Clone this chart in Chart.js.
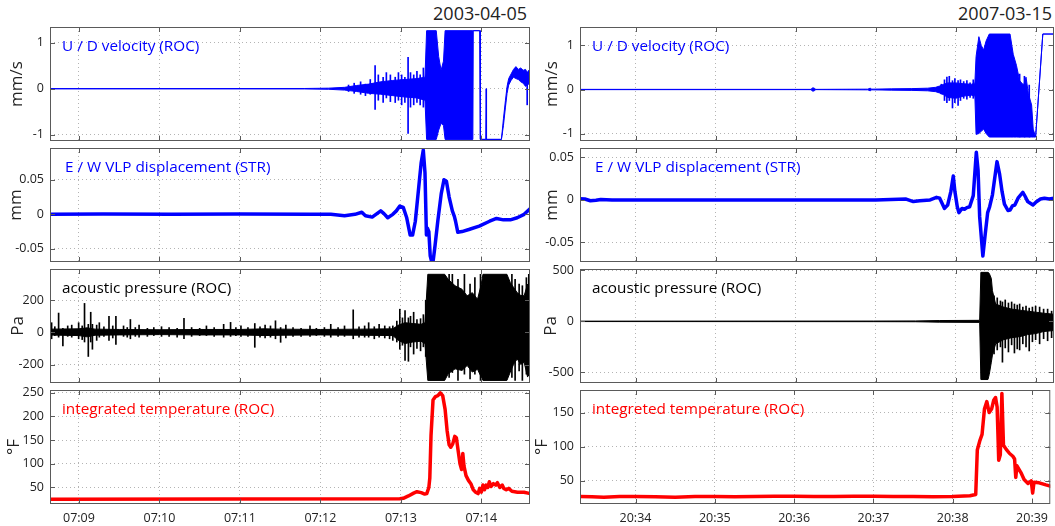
<!DOCTYPE html>
<html>
<head>
<meta charset="utf-8">
<script src="https://cdn.jsdelivr.net/npm/chart.js@4.4.0/dist/chart.umd.min.js"></script>
<style>
  body { margin: 0; background: #fff; width: 1055px; height: 526px; overflow: hidden; position: relative; font-family: "Open Sans", sans-serif; }
  canvas { position: absolute; }
  .date { position: absolute; top: 1px; font-size: 18px; color: #222; }
</style>
</head>
<body>
<div class="date" style="right:528px">2003-04-05</div>
<div class="date" style="right:3px">2007-03-15</div>
<script>
// time axis values are minutes after the hour (07:xx on the left, 20:xx on the right)
const ticksA = [9, 10, 11, 12, 13, 14];
const labelsA = ["07:09", "07:10", "07:11", "07:12", "07:13", "07:14"];
const ticksB = [34, 35, 36, 37, 38, 39];
const labelsB = ["20:34", "20:35", "20:36", "20:37", "20:38", "20:39"];

// U/D velocity (mm/s): envelope of the trace + single spikes
const velA_t = [8.64,11.80,12.10,12.30,12.45,12.60,12.75,12.90,13.05,13.20,
  13.30,13.32,13.44,13.47,13.50,13.53,13.55,13.895,13.90,13.98,
  13.985,13.99,14.055,14.06,14.065,14.25,14.275,14.30,14.32,14.34,
  14.37,14.40,14.43,14.46,14.49,14.52,14.55,14.57,14.59,14.605];
const velA_hi = [0.003,0.005,0.012,0.03,0.07,0.1,0.15,0.18,0.2,0.22,
  0.25,1.26,1.26,0.7,0.4,0.6,1.26,1.26,1.26,1.26,
  1.26,-1.1,-1.1,0,-1.1,-1.1,-0.65,-0.25,0.05,0.22,
  0.32,0.42,0.48,0.42,0.45,0.4,0.42,0.35,0.4,0.3];
const velA_lo = [-0.003,-0.005,-0.012,-0.03,-0.06,-0.1,-0.12,-0.15,-0.18,-0.2,
  -0.25,-1.1,-1.1,-0.9,-0.75,-0.8,-1.1,-1.1,1.26,1.26,
  -1.1,-1.1,-1.1,-1.1,-1.1,-1.1,-0.8,-0.4,-0.1,0.08,
  0.18,0.25,0.22,0.2,0.15,0.12,0.05,0.08,0.1,0.15];
const velA_sp_t = [12.35,12.42,12.50,12.56,12.62,12.68,12.72,12.78,12.82,12.87,
  12.93,12.97,13.01,13.05,13.09,13.12,13.16,13.20,13.24,13.28,14.57];
const velA_sp_lo = [-0.06,-0.1,-0.12,-0.15,-0.12,-0.45,-0.25,-0.3,-0.2,-0.28,
  -0.3,-0.25,-0.35,-0.3,-0.97,-0.4,-0.35,-0.3,-0.35,-0.4,-0.35];
const velA_sp_hi = [0.08,0.12,0.15,0.1,0.2,0.5,0.3,0.25,0.35,0.3,
  0.25,0.35,0.3,0.25,0.68,0.35,0.3,0.38,0.3,0.45,0.35];

const velB_t = [33.30,36.19,36.21,36.23,36.25,36.90,36.93,36.95,37.20,37.45,
  37.65,37.75,37.80,37.85,37.90,38.00,38.10,38.20,38.24,38.255,
  38.29,38.32,38.35,38.38,38.42,38.68,38.72,38.76,38.80,38.85,
  38.88,38.91,38.95,38.97,39.00,39.09,39.23];
const velB_hi = [0.003,0.003,0.04,0.03,0.003,0.008,0.03,0.008,0.015,0.02,
  0.03,0.05,0.08,0.12,0.15,0.15,0.13,0.12,0.15,0.75,
  1.2,1.0,0.9,1.1,1.26,1.26,0.8,0.55,0.2,0.1,
  0.28,-0.1,-0.35,-0.9,-1.08,1.26,1.26];
const velB_lo = [-0.003,-0.003,-0.04,-0.03,-0.003,-0.008,-0.03,-0.008,-0.015,-0.02,
  -0.03,-0.05,-0.08,-0.12,-0.18,-0.2,-0.15,-0.13,-0.15,-1.02,
  -1.0,-0.95,-0.9,-1.0,-1.08,-1.08,-1.08,-1.08,-1.08,-1.08,
  -1.08,-1.08,-1.08,-1.08,-1.08,1.26,1.26];
const velB_sp_t = [37.82,37.86,37.89,37.92,37.96,37.99,38.03,38.06,38.10,38.14,
  38.18,38.22,38.80,38.86,38.92];
const velB_sp_lo = [-0.1,-0.25,-0.3,-0.25,-0.42,-0.3,-0.36,-0.25,-0.2,-0.22,
  -0.18,-0.2,-1.08,-1.08,-1.08];
const velB_sp_hi = [0.12,0.22,0.28,0.3,0.2,0.25,0.2,0.22,0.18,0.2,
  0.15,0.22,0.35,0.3,0.1];

// E/W VLP displacement (mm)
const dispA_t = [8.64,9.30,10.15,11.01,11.87,12.13,12.30,12.43,12.515,12.56,
  12.644,12.75,12.79,12.837,12.90,12.944,12.987,13.03,13.073,13.116,
  13.146,13.18,13.223,13.253,13.279,13.30,13.318,13.33,13.348,13.365,
  13.382,13.403,13.425,13.459,13.502,13.536,13.566,13.60,13.64,13.665,
  13.68,13.708,13.76,13.845,13.974,14.103,14.189,14.275,14.36,14.446,
  14.532,14.605];
const dispA_v = [0,0.0005,0,0.0005,0,0,-0.002,0,0.003,-0.002,
  -0.004,0.005,0.001,-0.005,0,0.005,0.012,0.01,-0.005,-0.03,
  -0.03,-0.01,0.04,0.075,0.093,0.06,-0.03,-0.02,-0.025,-0.06,
  -0.068,-0.066,-0.045,-0.01,0.03,0.05,0.048,0.025,0.005,-0.003,
  -0.01,-0.026,-0.025,-0.022,-0.017,-0.01,-0.006,-0.008,-0.008,-0.005,
  0,0.008];

const dispB_t = [33.30,33.36,33.43,33.50,33.56,33.70,34.50,35.50,36.50,37.00,
  37.38,37.47,37.55,37.68,37.76,37.80,37.86,37.90,37.94,37.97,
  37.99,38.02,38.04,38.08,38.11,38.14,38.175,38.22,38.258,38.28,
  38.30,38.34,38.37,38.40,38.425,38.46,38.517,38.55,38.58,38.61,
  38.654,38.68,38.71,38.74,38.78,38.84,38.87,38.90,38.967,39.00,
  39.06,39.11,39.17,39.23];
const dispB_v = [0.0015,0.001,-0.001,-0.0005,0.0005,0,0,0,0,0,
  0.001,-0.002,-0.001,0,0.003,0.002,-0.01,-0.006,0.01,0.028,
  0.01,-0.008,-0.015,-0.01,-0.011,-0.009,-0.008,0.005,0.056,0.035,
  -0.02,-0.066,-0.04,-0.015,-0.008,0.006,0.045,0.03,0.01,-0.005,
  -0.0125,-0.012,-0.007,-0.006,0.002,0.009,0.004,-0.002,-0.006,-0.003,
  0.001,0.002,0.001,0.002];

// acoustic pressure (Pa): envelope of the trace + single spikes
const presA_t = [8.64,9.0,9.1,9.2,9.5,10.0,10.5,11.0,11.3,11.5,
  12.0,12.5,12.9,12.97,13.05,13.15,13.25,13.30,13.335,13.545,
  13.588,13.674,13.76,13.824,13.888,13.953,14.0,14.02,14.318,14.36,
  14.40,14.446,14.49,14.532,14.575,14.605];
const presA_hi = [20,22,28,20,18,16,18,18,22,20,
  18,20,22,45,60,55,50,60,361,361,
  330,290,268,227,247,206,300,361,361,310,
  280,247,230,227,300,144];
const presA_lo = [-17,-20,-28,-18,-16,-14,-16,-16,-20,-18,
  -16,-18,-20,-50,-70,-60,-55,-70,-299,-299,
  -258,-227,-237,-206,-247,-230,-280,-299,-299,-247,
  -200,-165,-200,-186,-278,-220];
const presA_sp_t = [8.66,8.70,8.747,8.80,8.86,8.91,8.996,9.04,9.069,9.116,
  9.146,9.167,9.22,9.253,9.31,9.373,9.42,9.459,9.554,9.60,
  9.639,9.70,9.747,9.85,9.93,10.026,10.12,10.22,10.305,10.40,
  10.50,10.584,10.68,10.798,10.884,10.95,11.013,11.10,11.185,11.25,
  11.313,11.38,11.442,11.506,11.571,11.66,11.76,11.871,11.95,12.05,
  12.129,12.22,12.30,12.408,12.48,12.55,12.60,12.67,12.73,12.80,
  12.86,12.90,12.95,12.987,13.02,13.052,13.094,13.12,13.159,13.20,
  13.245,13.28,13.309,13.60,13.64,13.71,13.79,13.86,13.92,13.99,
  14.38,14.42,14.47,14.51,14.56,14.59];
const presA_sp_hi = [60,35,120,25,40,45,60,40,180,50,
  125,50,45,60,35,100,40,100,40,30,
  80,30,45,25,30,35,30,25,87,30,
  25,40,30,50,62,30,40,30,55,35,
  45,40,72,30,45,30,25,40,25,30,
  50,30,40,140,35,40,60,35,50,40,
  35,40,70,144,90,135,90,100,125,80,
  85,110,200,361,361,330,361,300,340,361,
  361,330,300,290,340,361];
const presA_sp_lo = [-40,-20,-30,-85,-25,-30,-40,-45,-60,-150,
  -60,-105,-50,-30,-25,-50,-35,-75,-25,-30,
  -40,-25,-30,-25,-20,-25,-25,-30,-40,-25,
  -20,-20,-25,-30,-25,-20,-25,-25,-93,-30,
  -35,-30,-40,-62,-35,-25,-25,-25,-20,-25,
  -30,-25,-25,-40,-30,-30,-30,-40,-30,-35,
  -40,-50,-60,-105,-80,-175,-180,-90,-135,-100,
  -115,-90,-150,-280,-250,-299,-260,-290,-260,-299,
  -280,-299,-240,-299,-260,-270];

const presB_t = [33.30,36.97,37.50,37.80,38.28,38.30,38.315,38.404,38.42,38.446,
  38.46,38.50,38.60,38.70,38.80,38.90,39.00,39.10,39.23];
const presB_hi = [2,3,4,8,10,12,480,480,470,420,
  300,170,140,120,110,100,90,80,70];
const presB_lo = [-2,-3,-4,-8,-10,-12,-570,-570,-520,-400,
  -330,-220,-180,-160,-150,-130,-120,-100,-90];
const presB_sp_t = [38.48,38.52,38.56,38.585,38.62,38.66,38.70,38.735,38.77,38.80,
  38.84,38.88,38.92,38.96,39.00,39.05,39.10,39.15,39.20];
const presB_sp_hi = [250,230,200,190,210,180,190,170,160,170,
  140,150,130,140,150,140,120,120,100];
const presB_sp_lo = [-320,-280,-250,-400,-260,-300,-230,-310,-270,-280,
  -220,-250,-290,-200,-180,-220,-170,-190,-160];

// integrated temperature (°F)
const tempA_t = [8.64,12.987,13.03,13.094,13.159,13.20,13.253,13.296,13.322,13.348,
  13.36,13.375,13.40,13.43,13.46,13.49,13.52,13.55,13.575,13.60,
  13.62,13.645,13.67,13.69,13.71,13.735,13.755,13.77,13.785,13.81,
  13.84,13.87,13.90,13.93,13.96,13.98,14.00,14.02,14.04,14.06,
  14.08,14.10,14.12,14.15,14.18,14.20,14.23,14.26,14.28,14.31,
  14.34,14.38,14.45,14.53,14.58,14.605];
const tempA_v = [25,26,27,32,38,41,39,36,37,50,
  70,160,235,242,244,250,244,215,170,140,
  135,142,158,155,130,100,88,122,95,75,
  65,58,45,40,37,48,40,55,45,55,
  50,62,52,58,55,60,50,55,48,45,
  48,42,40,40,38,37];

const tempB_t = [33.30,33.45,33.60,33.80,34.00,34.25,34.50,34.75,35.00,35.25,
  35.50,35.75,36.00,36.25,36.50,36.75,37.00,37.25,37.50,37.75,
  38.00,38.217,38.29,38.31,38.34,38.37,38.40,38.43,38.46,38.49,
  38.517,38.54,38.56,38.58,38.60,38.62,38.64,38.675,38.717,38.758,
  38.78,38.795,38.81,38.86,38.90,38.95,38.99,39.008,39.025,39.09,
  39.175,39.24];
const tempB_v = [27,26.5,26,27,27,26.5,26,27,27,26.5,
  27,27.5,27.5,27,27,27.5,27.5,27,27,26.5,
  27,28,30,95,108,118,155,166,150,155,
  168,172,158,80,88,178,102,96,90,86,
  82,55,72,62,52,46,50,32,48,47,
  44,42];

const BLUE = "#0000ff", RED = "#ff0000", BLACK = "#000000";
const rowTop = [27, 148, 269, 390];
const rowBottom = [141, 262, 383, 504];

const panels = [
  { col: 0, row: 0, caption: "U / D velocity (ROC)", color: BLUE, yTitle: "mm/s", titleX: 7,
    yMin: -1.135, yMax: 1.34, yTicks: [-1, 0, 1], yLabels: ["-1", "0", "1"],
    env: [velA_t, velA_hi, velA_lo], spikes: [velA_sp_t, velA_sp_lo, velA_sp_hi] },
  { col: 1, row: 0, caption: "U / D velocity (ROC)", color: BLUE, yTitle: "mm/s", titleX: 12,
    yMin: -1.17, yMax: 1.42, yTicks: [-1, 0, 1], yLabels: ["-1", "0", "1"],
    env: [velB_t, velB_hi, velB_lo], spikes: [velB_sp_t, velB_sp_lo, velB_sp_hi] },
  { col: 0, row: 1, caption: "E / W VLP displacement (STR)", color: BLUE, yTitle: "mm", titleX: 6,
    yMin: -0.069, yMax: 0.096, yTicks: [-0.05, 0, 0.05], yLabels: ["-0.05", "0", "0.05"],
    line: [dispA_t, dispA_v] },
  { col: 1, row: 1, caption: "E / W VLP displacement (STR)", color: BLUE, yTitle: "mm", titleX: 12,
    yMin: -0.073, yMax: 0.061, yTicks: [-0.05, 0, 0.05], yLabels: ["-0.05", "0", "0.05"],
    line: [dispB_t, dispB_v] },
  { col: 0, row: 2, caption: "acoustic pressure (ROC)", color: BLACK, yTitle: "Pa", titleX: 8,
    yMin: -315, yMax: 394, yTicks: [-200, 0, 200], yLabels: ["-200", "0", "200"],
    env: [presA_t, presA_hi, presA_lo], spikes: [presA_sp_t, presA_sp_lo, presA_sp_hi] },
  { col: 1, row: 2, caption: "acoustic pressure (ROC)", color: BLACK, yTitle: "Pa", titleX: 11,
    yMin: -604, yMax: 513, yTicks: [-500, 0, 500], yLabels: ["-500", "0", "500"],
    env: [presB_t, presB_hi, presB_lo], spikes: [presB_sp_t, presB_sp_lo, presB_sp_hi] },
  { col: 0, row: 3, caption: "integrated temperature (ROC)", color: RED, yTitle: "°F", titleX: 4,
    yMin: 15, yMax: 256, yTicks: [50, 100, 150, 200, 250], yLabels: ["50", "100", "150", "200", "250"],
    line: [tempA_t, tempA_v] },
  { col: 1, row: 3, caption: "integreted temperature (ROC)", color: RED, yTitle: "°F", titleX: 2,
    yMin: 16, yMax: 183, yTicks: [50, 100, 150], yLabels: ["50", "100", "150"],
    line: [tempB_t, tempB_v] }
];

const frame = {
  id: "frame",
  afterDraw(chart, args, opts) {
    const { ctx, chartArea: a } = chart;
    const xs = chart.scales.x, ys = chart.scales.y;
    ctx.save();
    ctx.strokeStyle = "#5a5a5a";
    ctx.lineWidth = 1;
    ctx.strokeRect(a.left + 0.5, a.top + 0.5, a.right - a.left - 1, a.bottom - a.top - 1);
    ctx.beginPath();
    xs.ticks.forEach(t => {
      const px = Math.round(xs.getPixelForValue(t.value)) + 0.5;
      ctx.moveTo(px, a.bottom); ctx.lineTo(px, a.bottom - 5);
      ctx.moveTo(px, a.top); ctx.lineTo(px, a.top + 5);
    });
    ys.ticks.forEach(t => {
      const py = Math.round(ys.getPixelForValue(t.value)) + 0.5;
      ctx.moveTo(a.left, py); ctx.lineTo(a.left + 5, py);
      ctx.moveTo(a.right, py); ctx.lineTo(a.right - 5, py);
    });
    ctx.stroke();
    ctx.font = '15.3px "Open Sans"';
    ctx.fillStyle = opts.color;
    ctx.textBaseline = "middle";
    ctx.fillText(opts.caption, a.left + opts.dx, a.top + 20);
    ctx.restore();
  }
};

const tickFont = { family: "Open Sans", size: 12.5 };

panels.forEach(p => {
  const cv = document.createElement("canvas");
  const isBottom = p.row === 3;
  const left = p.col === 0 ? 0 : 530;
  const width = p.col === 0 ? 536 : 525;
  const height = rowBottom[p.row] - rowTop[p.row] + 16 + (isBottom ? 22 : 16);
  cv.width = width;
  cv.height = height;
  cv.style.left = left + "px";
  cv.style.top = (rowTop[p.row] - 16) + "px";
  document.body.appendChild(cv);

  const xt = p.col === 0 ? ticksA : ticksB;
  const xl = p.col === 0 ? labelsA : labelsB;
  const datasets = [];
  if (p.env) {
    const [t, hi, lo] = p.env;
    datasets.push({ data: t.map((v, i) => ({ x: v, y: hi[i] })), borderColor: p.color, backgroundColor: p.color,
      borderWidth: 1, fill: "+1" });
    datasets.push({ data: t.map((v, i) => ({ x: v, y: lo[i] })), borderColor: p.color, borderWidth: 1, fill: false });
  }
  if (p.spikes) {
    const [t, lo, hi] = p.spikes;
    datasets.push({ type: "bar", data: t.map((v, i) => ({ x: v, y: [lo[i], hi[i]] })),
      backgroundColor: p.color, borderWidth: 0, barThickness: 1, grouped: false });
  }
  if (p.line) {
    const [t, v] = p.line;
    datasets.push({ data: t.map((x, i) => ({ x, y: v[i] })), borderColor: p.color, borderWidth: 3.5,
      borderJoinStyle: "round", borderCapStyle: "round", fill: false });
  }

  new Chart(cv, {
    type: "line",
    data: { datasets },
    options: {
      responsive: false,
      animation: false,
      devicePixelRatio: 1,
      layout: { padding: { left: 0, right: p.col === 0 ? 6 : 1, top: 16, bottom: isBottom ? 0 : 16 } },
      elements: { point: { radius: 0 }, line: { tension: 0 } },
      plugins: {
        legend: { display: false },
        tooltip: { enabled: false },
        frame: { caption: p.caption, color: p.color, dx: p.row === 1 ? 15 : 12 }
      },
      scales: {
        x: {
          type: "linear",
          offset: false,
          min: p.col === 0 ? 8.64 : 33.30,
          max: p.col === 0 ? 14.605 : 39.23,
          afterBuildTicks: s => { s.ticks = xt.map(v => ({ value: v })); },
          afterFit: s => { s.height = isBottom ? 22 : 0; },
          ticks: { display: isBottom, padding: 7, font: tickFont, color: "#222", maxRotation: 0,
            callback: (v, i) => xl[i] },
          grid: { color: "#b4b4b4", drawTicks: false, offset: false },
          border: { display: false, dash: [1, 3] }
        },
        y: {
          type: "linear",
          min: p.yMin,
          max: p.yMax,
          afterBuildTicks: s => { s.ticks = p.yTicks.map(v => ({ value: v })); },
          afterFit: s => { s.width = 50; },
          ticks: { padding: 6, font: tickFont, color: "#222", callback: (v, i) => p.yLabels[i] },
          grid: { color: "#b4b4b4", drawTicks: false },
          border: { display: false, dash: [1, 3] },
          title: { display: true, text: p.yTitle, color: "#222", font: { family: "Open Sans", size: 17 },
            padding: { top: p.titleX, bottom: 0 } }
        }
      }
    },
    plugins: [frame]
  });
});
</script>
</body>
</html>
